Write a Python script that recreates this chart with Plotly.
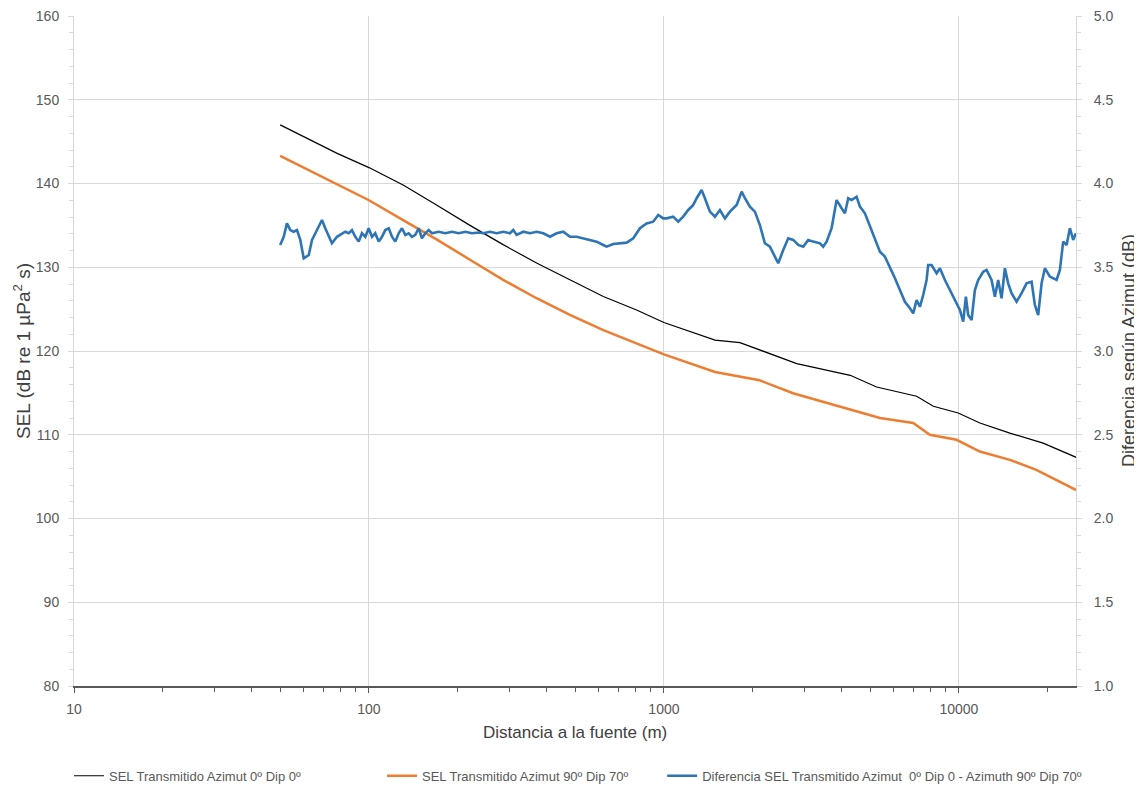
import plotly.graph_objects as go

# Black series: SEL Transmitido Azimut 0º Dip 0º
dist_black = [50, 60, 78, 100, 131, 170, 220, 285, 370, 480, 623, 808, 1000, 1490, 1810,
              2820, 4280, 5260, 7190, 8190, 9950, 11780, 14890, 19300, 25000]
sel_black = [147.0, 145.6, 143.6, 141.9, 139.8, 137.4, 135.0, 132.7, 130.5, 128.5, 126.5, 124.9,
             123.4, 121.3, 121.0, 118.5, 117.1, 115.7, 114.6, 113.4, 112.6, 111.4, 110.2, 109.0, 107.3]

# Orange series: SEL Transmitido Azimut 90º Dip 70º
dist_orange = [50, 60, 78, 100, 131, 170, 220, 285, 370, 480, 623, 808, 1000, 1490, 2110,
               2740, 4160, 5400, 7000, 7970, 9820, 11780, 14890, 18300, 25000]
sel_orange = [143.3, 141.9, 139.9, 138.0, 135.6, 133.3, 130.9, 128.5, 126.3, 124.3, 122.5, 120.9,
              119.6, 117.5, 116.5, 114.95, 113.1, 112.0, 111.4, 110.0, 109.4, 108.0, 107.0, 105.8, 103.4]

# Blue series: difference (right axis)
dist_blue = [50.0, 51.4, 52.7, 54.1, 55.5, 57.0, 58.5, 60.1, 62.5, 64.1, 65.8, 67.5, 69.3, 71.1,
             73.0, 74.9, 77.9, 81.0, 83.1, 85.4, 87.6, 89.9, 92.3, 94.7, 97.2, 99.8, 102.4, 105.0,
             107.9, 110.7, 113.6, 116.7, 119.7, 122.8, 126.1, 129.4, 132.8, 136.4, 139.9, 143.6,
             147.4, 151.2, 155.2, 159.4, 163.5, 172.4, 181.4, 191.1, 201.4, 212.1, 223.5, 235.5,
             244.1, 257.2, 271.0, 285.3, 300.6, 308.5, 316.8, 333.5, 351.4, 370.3, 389.9, 410.9,
             432.9, 455.8, 480.3, 506.0, 532.7, 561.4, 591.5, 622.7, 639.5, 673.2, 709.4, 747.4,
             787.0, 808.3, 829.3, 873.9, 919.6, 956.4, 994.5, 1021, 1075, 1118, 1162, 1209, 1257,
             1291, 1342, 1377, 1432, 1489, 1548, 1610, 1674, 1764, 1834, 1882, 1956, 2034, 2115,
             2199, 2287, 2378, 2441, 2538, 2639, 2744, 2853, 2967, 3085, 3207, 3380, 3467, 3560,
             3702, 3849, 4003, 4108, 4215, 4328, 4500, 4618, 4802, 4993, 5192, 5399, 5614, 5837,
             6070, 6310, 6561, 6823, 7000, 7188, 7376, 7568, 7771, 7868, 8081, 8404, 8623, 8966,
             9322, 9692, 10078, 10342, 10561, 10752, 11041, 11330, 11626, 12088, 12413, 12904,
             13243, 13588, 13953, 14318, 14692, 15085, 15687, 16313, 16961, 17636, 18097, 18570,
             19069, 19566, 20345, 21439, 21998, 22573, 23178, 23783, 24404, 24922]
diff_blue = [3.633, 3.682, 3.762, 3.722, 3.712, 3.722, 3.663, 3.553, 3.573, 3.663, 3.703, 3.742,
             3.782, 3.733, 3.682, 3.643, 3.682, 3.703, 3.712, 3.703, 3.722, 3.682, 3.653, 3.703,
             3.682, 3.733, 3.682, 3.703, 3.653, 3.682, 3.722, 3.733, 3.682, 3.653, 3.703, 3.733,
             3.693, 3.703, 3.682, 3.693, 3.733, 3.673, 3.703, 3.722, 3.703, 3.712, 3.703, 3.712,
             3.703, 3.712, 3.703, 3.707, 3.703, 3.712, 3.703, 3.712, 3.703, 3.722, 3.693, 3.712,
             3.703, 3.712, 3.703, 3.682, 3.703, 3.712, 3.682, 3.682, 3.673, 3.663, 3.653, 3.633,
             3.623, 3.639, 3.643, 3.647, 3.673, 3.703, 3.733, 3.762, 3.772, 3.812, 3.792, 3.792,
             3.802, 3.772, 3.802, 3.842, 3.872, 3.912, 3.961, 3.912, 3.832, 3.802, 3.842, 3.792,
             3.832, 3.872, 3.951, 3.912, 3.862, 3.832, 3.752, 3.643, 3.623, 3.563, 3.524, 3.603,
             3.673, 3.663, 3.633, 3.623, 3.663, 3.653, 3.643, 3.623, 3.653, 3.733, 3.901, 3.852,
             3.822, 3.912, 3.901, 3.921, 3.862, 3.822, 3.742, 3.663, 3.593, 3.563, 3.503, 3.434,
             3.364, 3.294, 3.255, 3.225, 3.304, 3.264, 3.334, 3.424, 3.513, 3.513, 3.464, 3.494,
             3.424, 3.364, 3.304, 3.245, 3.175, 3.324, 3.215, 3.185, 3.364, 3.424, 3.473, 3.484,
             3.424, 3.324, 3.424, 3.315, 3.494, 3.404, 3.345, 3.294, 3.345, 3.404, 3.414, 3.275,
             3.215, 3.404, 3.494, 3.444, 3.424, 3.484, 3.653, 3.633, 3.733, 3.663, 3.703]

x_tick_vals = [10, 100, 1000, 10000]
x_tick_text = ["10", "100", "1000", "10000"]
x_minor_vals = [20, 30, 40, 50, 60, 70, 80, 90,
                200, 300, 400, 500, 600, 700, 800, 900,
                2000, 3000, 4000, 5000, 6000, 7000, 8000, 9000,
                20000]

FONT = "Liberation Sans, Arial, sans-serif"
GRID = "#d9d9d9"
TXT = "#595959"
TITLE = "#404040"

fig = go.Figure()
fig.add_trace(go.Scatter(x=dist_black, y=sel_black, mode="lines", legend="legend",
                         name="SEL Transmitido Azimut 0º Dip 0º",
                         line=dict(color="#000000", width=1.2)))
fig.add_trace(go.Scatter(x=dist_orange, y=sel_orange, mode="lines", legend="legend2",
                         name="SEL Transmitido Azimut 90º Dip 70º",
                         line=dict(color="#ED7D31", width=2.5)))
fig.add_trace(go.Scatter(x=dist_blue, y=diff_blue, mode="lines", yaxis="y2", legend="legend3",
                         name="Diferencia SEL Transmitido Azimut  0º Dip 0 - Azimuth 90º Dip 70º",
                         line=dict(color="#2E75B6", width=2.6)))

leg_common = dict(orientation="h", xanchor="left", y=-0.134, yanchor="middle",
                  font=dict(size=13, color=TXT), bgcolor="rgba(0,0,0,0)")

# the page body adds an 8px margin, so the figure is 8px smaller than the window
fig.update_layout(
    width=1134, height=781,
    margin=dict(l=66, r=66, t=8, b=103, autoexpand=False),
    paper_bgcolor="white", plot_bgcolor="white",
    font=dict(family=FONT, size=14, color=TXT),
    showlegend=True,
    legend=dict(x=-0.005, **leg_common),
    legend2=dict(x=0.3074, **leg_common),
    legend3=dict(x=0.587, **leg_common),
    xaxis=dict(type="log", range=[1, 4.397], automargin=False,
               tickvals=x_tick_vals, ticktext=x_tick_text,
               showgrid=True, gridcolor=GRID, gridwidth=1,
               showline=True, linecolor="#595959", linewidth=1.5,
               ticks="outside", ticklen=5, tickcolor="#595959",
               ticklabelstandoff=4, ticklabeloverflow="allow",
               minor=dict(tickmode="array", tickvals=x_minor_vals, ticks="outside",
                          ticklen=4, tickcolor="#595959", showgrid=False),
               zeroline=False),
    yaxis=dict(range=[80, 160], dtick=10, tick0=80, automargin=False,
               showgrid=True, gridcolor=GRID, gridwidth=1,
               showline=True, linecolor=GRID, linewidth=1,
               ticks="outside", ticklen=5, tickcolor=GRID,
               ticklabelstandoff=6, ticklabeloverflow="allow",
               minor=dict(dtick=2, ticks="outside", ticklen=4, tickcolor=GRID, showgrid=False),
               zeroline=False),
    yaxis2=dict(range=[1.0, 5.0], dtick=0.5, tick0=1.0, tickformat=".1f", automargin=False,
                overlaying="y", side="right",
                showgrid=False,
                showline=True, linecolor=GRID, linewidth=1,
                ticks="outside", ticklen=5, tickcolor=GRID,
                ticklabelstandoff=9, ticklabeloverflow="allow",
                minor=dict(dtick=0.1, ticks="outside", ticklen=4, tickcolor=GRID),
                zeroline=False),
    annotations=[
        dict(text="Distancia a la fuente (m)", xref="paper", yref="paper",
             x=0.5, y=-0.0701, xanchor="center", yanchor="middle", showarrow=False,
             font=dict(size=17, color=TITLE)),
        dict(text="SEL (dB re 1 µPa<sup>2</sup> s)", xref="paper", yref="paper",
             x=-0.0519, y=0.5, xanchor="center", yanchor="middle", showarrow=False,
             textangle=-90, font=dict(size=19, color=TITLE)),
        dict(text="Diferencia según Azimut (dB)", xref="paper", yref="paper",
             x=1.0529, y=0.5, xanchor="center", yanchor="middle", showarrow=False,
             textangle=-90, font=dict(size=18, color=TITLE)),
    ],
)

fig.write_html("out.html")
